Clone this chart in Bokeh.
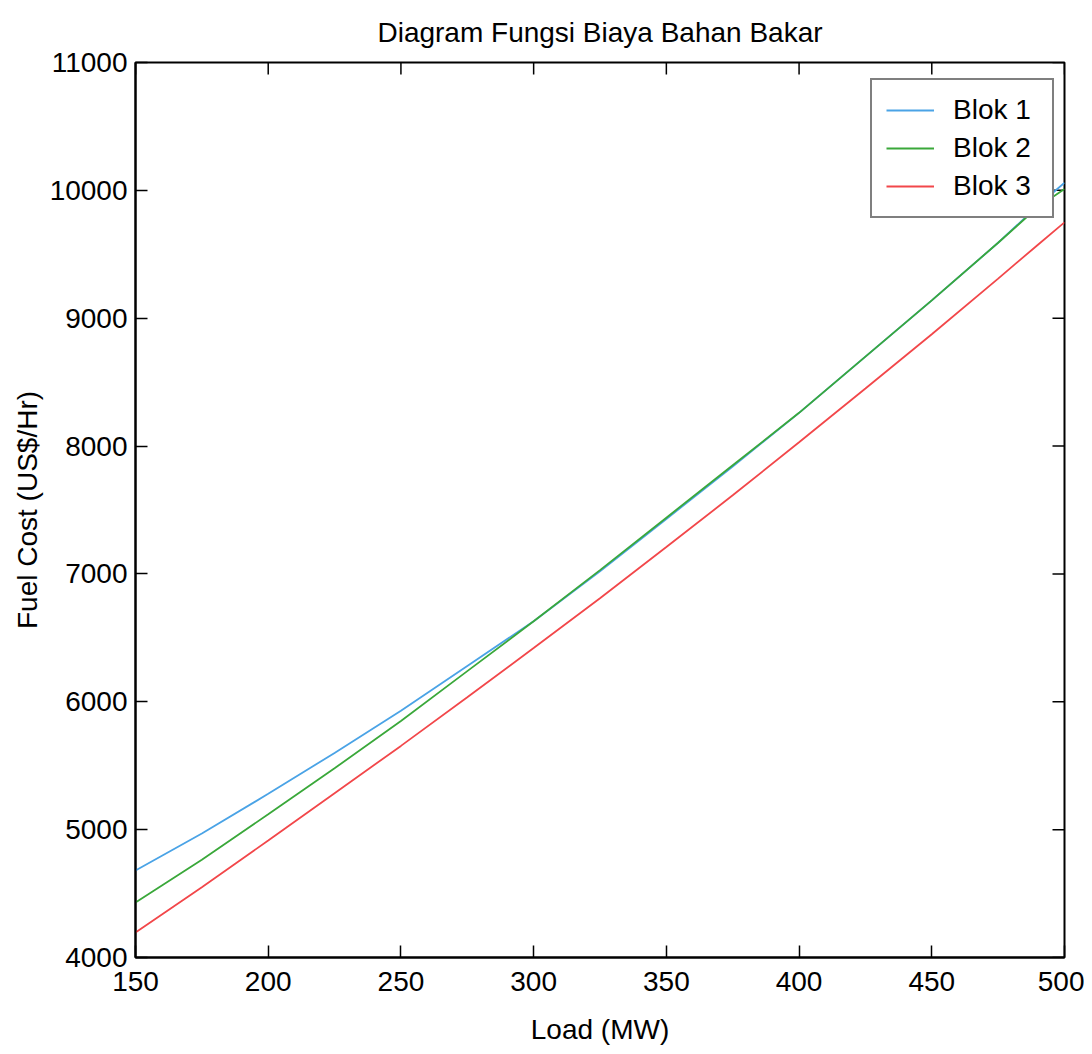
import math
from bokeh.plotting import figure
from bokeh.models import Range1d, FixedTicker, Legend, LegendItem
from bokeh.embed import file_html
from bokeh.resources import INLINE

# ---- data ----
load_mw = [150, 175, 200, 225, 250, 275, 300, 325, 350, 375, 400, 425, 450, 475, 490, 500]
blok1 = [4680, 4970, 5280, 5600, 5930, 6280, 6630, 7020, 7430, 7840, 8260, 8700, 9140, 9590, 9880, 10060]
blok2 = [4430, 4765, 5120, 5480, 5850, 6240, 6630, 7030, 7440, 7850, 8260, 8700, 9140, 9590, 9870, 10010]
blok3 = [4195, 4550, 4915, 5285, 5655, 6035, 6420, 6810, 7210, 7615, 8030, 8450, 8875, 9310, 9575, 9750]
series_names = ["Blok 1", "Blok 2", "Blok 3"]
x_ticks = [150, 200, 250, 300, 350, 400, 450, 500]
y_ticks = [4000, 5000, 6000, 7000, 8000, 9000, 10000, 11000]
x_min, x_max = 150, 500
y_min, y_max = 4000, 11000

title_text = "Diagram Fungsi Biaya Bahan Bakar"
x_label = "Load (MW)"
y_label = "Fuel Cost (US$/Hr)"

FONT = "Liberation Sans"
colors = ["#4aa3e6", "#3aa83a", "#f2474a"]

p = figure(
    frame_width=929, frame_height=895,
    min_border_left=135, min_border_top=62, min_border_right=20, min_border_bottom=20,
    x_range=Range1d(x_min, x_max), y_range=Range1d(y_min, y_max),
    output_backend="svg", toolbar_location=None, title=title_text,
)
p.background_fill_color = "white"
p.border_fill_color = "white"
p.outline_line_color = "black"
p.outline_line_width = 2
p.xgrid.visible = False
p.ygrid.visible = False

p.title.align = "center"
p.title.text_font = FONT
p.title.text_font_size = "28px"
p.title.text_font_style = "normal"
p.title.text_color = "black"
p.title.standoff = 29

def style_axis(ax, ticks):
    ax.ticker = FixedTicker(ticks=ticks)
    ax.major_tick_in = 12
    ax.major_tick_out = 0
    ax.minor_tick_line_color = None
    ax.axis_line_color = "black"
    ax.axis_line_width = 2
    ax.major_tick_line_color = "black"
    ax.major_tick_line_width = 1.5
    ax.major_label_text_font = FONT
    ax.major_label_text_font_size = "28px"
    ax.major_label_text_color = "black"
    ax.axis_label_text_font = FONT
    ax.axis_label_text_font_size = "28px"
    ax.axis_label_text_font_style = "normal"
    ax.axis_label_text_color = "black"

style_axis(p.xaxis[0], x_ticks)
style_axis(p.yaxis[0], y_ticks)
p.xaxis[0].axis_label = x_label
p.yaxis[0].axis_label = y_label
p.xaxis[0].major_label_standoff = 14
p.xaxis[0].axis_label_standoff = 20
p.yaxis[0].major_label_standoff = 8
p.yaxis[0].axis_label_standoff = 4

# inward tick marks on the top and right edges (MATLAB box style)
p.scatter(x_ticks, [y_max] * len(x_ticks), marker="dash", angle=math.pi / 2,
          size=24, line_color="black", line_width=1.5)
p.scatter([x_max] * len(y_ticks), y_ticks, marker="dash",
          size=24, line_color="black", line_width=1.5)

renderers = []
for ys, c in zip([blok1, blok2, blok3], colors):
    r = p.line(load_mw, ys, line_color=c, line_width=1.8)
    renderers.append(r)

legend = Legend(
    items=[LegendItem(label=n, renderers=[r]) for n, r in zip(series_names, renderers)],
    location=(735, 739),
)
legend.border_line_color = "black"
legend.border_line_width = 2
legend.background_fill_color = "white"
legend.background_fill_alpha = 1.0
legend.label_text_font = FONT
legend.label_text_font_size = "28px"
legend.label_text_color = "black"
legend.glyph_width = 48
legend.label_standoff = 19
legend.padding = 14
legend.spacing = 6
legend.margin = 0
legend.label_width = 85
p.add_layout(legend, "center")

open("out.html", "w").write(file_html(p, INLINE))
